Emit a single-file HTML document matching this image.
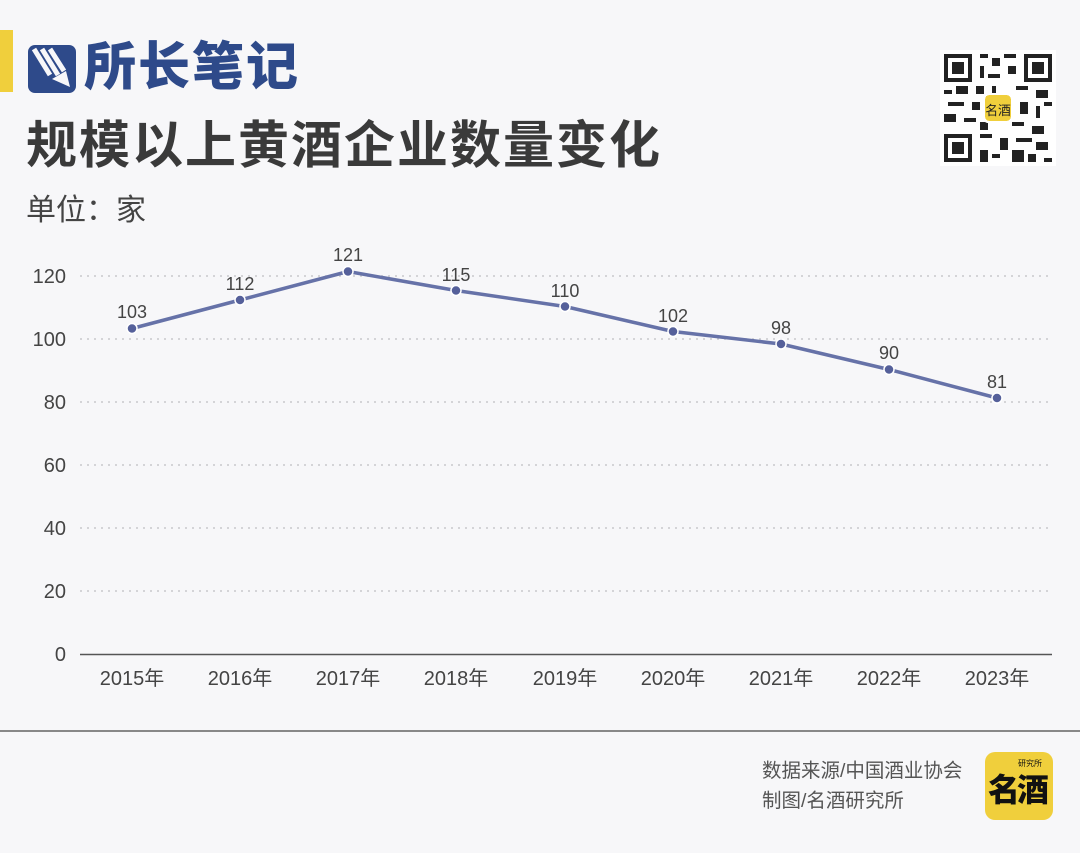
<!DOCTYPE html><html><head><meta charset="utf-8"><style>
body{margin:0;width:1080px;height:853px;background:#f7f7f9;overflow:hidden;font-family:"Liberation Sans","Noto Sans CJK SC",sans-serif;position:relative}
.a{position:absolute;white-space:nowrap}
</style></head><body>
<div class="a" style="left:0;top:30px;width:13px;height:62px;background:#f0cf3c"></div>
<svg class="a" style="left:28px;top:45px" width="50" height="50" viewBox="0 0 50 50"><rect x="0" y="0" width="48" height="48" rx="7" fill="#2e4a8a"/><path d="M6 4 L22 30 M14 4 L30 30 M22 4 L36 26" stroke="#f7f7f9" stroke-width="5"/><path d="M24 34 L38 26 L42 42 Z" fill="#f7f7f9"/></svg>
<div class="a" style="left:84px;top:38px;font-size:52px;font-weight:900;color:#2e4a8a;letter-spacing:2px;line-height:60px">所长笔记</div>
<div class="a" style="left:26px;top:114px;font-size:51px;font-weight:700;color:#3a3a3a;letter-spacing:2px;line-height:64px">规模以上黄酒企业数量变化</div>
<div class="a" style="left:26px;top:192px;font-size:30px;color:#444;line-height:38px">单位：家</div>
<svg class="a" style="left:940px;top:50px" width="116" height="116" viewBox="0 0 29 29" shape-rendering="crispEdges">
<rect width="29" height="29" fill="#fff"/>
<g fill="#222">
<rect x="1" y="1" width="7" height="7"/><rect x="21" y="1" width="7" height="7"/><rect x="1" y="21" width="7" height="7"/>
<path d="M10 1h2v1h-2zM13 2h2v2h-2zM16 1h3v1h-3zM10 4h1v3h-1zM12 6h3v1h-3zM17 4h2v2h-2zM1 10h2v1h-2zM4 9h3v2h-3zM9 9h2v2h-2zM13 9h1v3h-1zM19 9h3v1h-3zM24 10h3v2h-3zM2 13h4v1h-4zM8 13h2v2h-2zM20 13h2v3h-2zM24 14h1v3h-1zM26 13h2v1h-2zM1 16h3v2h-3zM6 17h3v1h-3zM10 18h2v2h-2zM18 18h3v1h-3zM23 19h3v2h-3zM10 21h3v1h-3zM15 22h2v3h-2zM19 22h4v1h-4zM24 23h3v2h-3zM10 25h2v3h-2zM13 26h2v1h-2zM18 25h3v3h-3zM22 26h2v2h-2zM26 27h2v1h-2z"/>
</g>
<g fill="#fff"><rect x="2" y="2" width="5" height="5"/><rect x="22" y="2" width="5" height="5"/><rect x="2" y="22" width="5" height="5"/></g>
<g fill="#222"><rect x="3" y="3" width="3" height="3"/><rect x="23" y="3" width="3" height="3"/><rect x="3" y="23" width="3" height="3"/></g>
<rect x="11" y="11" width="7" height="7" rx="1.2" fill="#f0cf3c" stroke="#fff" stroke-width=".6"/>
<text x="14.5" y="16.3" font-size="3.2" text-anchor="middle" fill="#222" font-family="Noto Sans CJK SC">名酒</text>
</svg>
<svg class="a" style="left:0;top:0" width="1080" height="853">
<g stroke="#c8c8cc" stroke-width="1.5" stroke-dasharray="2,5">
<line x1="80" x2="1052" y1="276" y2="276"/><line x1="80" x2="1052" y1="339" y2="339"/><line x1="80" x2="1052" y1="402" y2="402"/><line x1="80" x2="1052" y1="465" y2="465"/><line x1="80" x2="1052" y1="528" y2="528"/><line x1="80" x2="1052" y1="591" y2="591"/>
</g>
<line x1="80" x2="1052" y1="654.5" y2="654.5" stroke="#555" stroke-width="1.5"/>
<g font-family="Liberation Sans,Noto Sans CJK SC,sans-serif" font-size="20" fill="#444" text-anchor="end">
<text x="66" y="283">120</text><text x="66" y="346">100</text><text x="66" y="409">80</text><text x="66" y="472">60</text><text x="66" y="535">40</text><text x="66" y="598">20</text><text x="66" y="661">0</text>
</g>
<g font-family="Liberation Sans,Noto Sans CJK SC,sans-serif" font-size="20" fill="#444" text-anchor="middle">
<text x="132" y="685">2015年</text><text x="240" y="685">2016年</text><text x="348" y="685">2017年</text><text x="456" y="685">2018年</text><text x="565" y="685">2019年</text><text x="673" y="685">2020年</text><text x="781" y="685">2021年</text><text x="889" y="685">2022年</text><text x="997" y="685">2023年</text>
</g>
<polyline fill="none" stroke="#6672a8" stroke-width="3.5" stroke-linejoin="round" points="132,328.5 240,300 348,271.5 456,290.5 565,306.5 673,331.5 781,344 889,369.5 997,398"/>
<g fill="#55609a" stroke="#fff" stroke-width="1.5">
<circle cx="132" cy="328.5" r="5"/><circle cx="240" cy="300" r="5"/><circle cx="348" cy="271.5" r="5"/><circle cx="456" cy="290.5" r="5"/><circle cx="565" cy="306.5" r="5"/><circle cx="673" cy="331.5" r="5"/><circle cx="781" cy="344" r="5"/><circle cx="889" cy="369.5" r="5"/><circle cx="997" cy="398" r="5"/>
</g>
<g font-family="Liberation Sans,sans-serif" font-size="18" fill="#444" text-anchor="middle">
<text x="132" y="318">103</text><text x="240" y="290">112</text><text x="348" y="261">121</text><text x="456" y="281">115</text><text x="565" y="297">110</text><text x="673" y="322">102</text><text x="781" y="334">98</text><text x="889" y="359">90</text><text x="997" y="388">81</text>
</g>
<line x1="0" x2="1080" y1="731" y2="731" stroke="#888" stroke-width="2"/>
</svg>
<div class="a" style="left:762px;top:756px;font-size:19.5px;color:#555;line-height:30px">数据来源/中国酒业协会<br>制图/名酒研究所</div>
<div class="a" style="left:985px;top:752px;width:68px;height:68px;border-radius:10px;background:#f0cf3c"></div>
<div class="a" style="left:988px;top:766px;font-size:32px;font-weight:900;color:#111;line-height:44px;letter-spacing:-3px;font-family:'Noto Sans CJK SC',sans-serif">名酒</div>
<div class="a" style="left:1018px;top:758px;font-size:8px;color:#111;font-family:'Noto Sans CJK SC',sans-serif">研究所</div>
</body></html>
